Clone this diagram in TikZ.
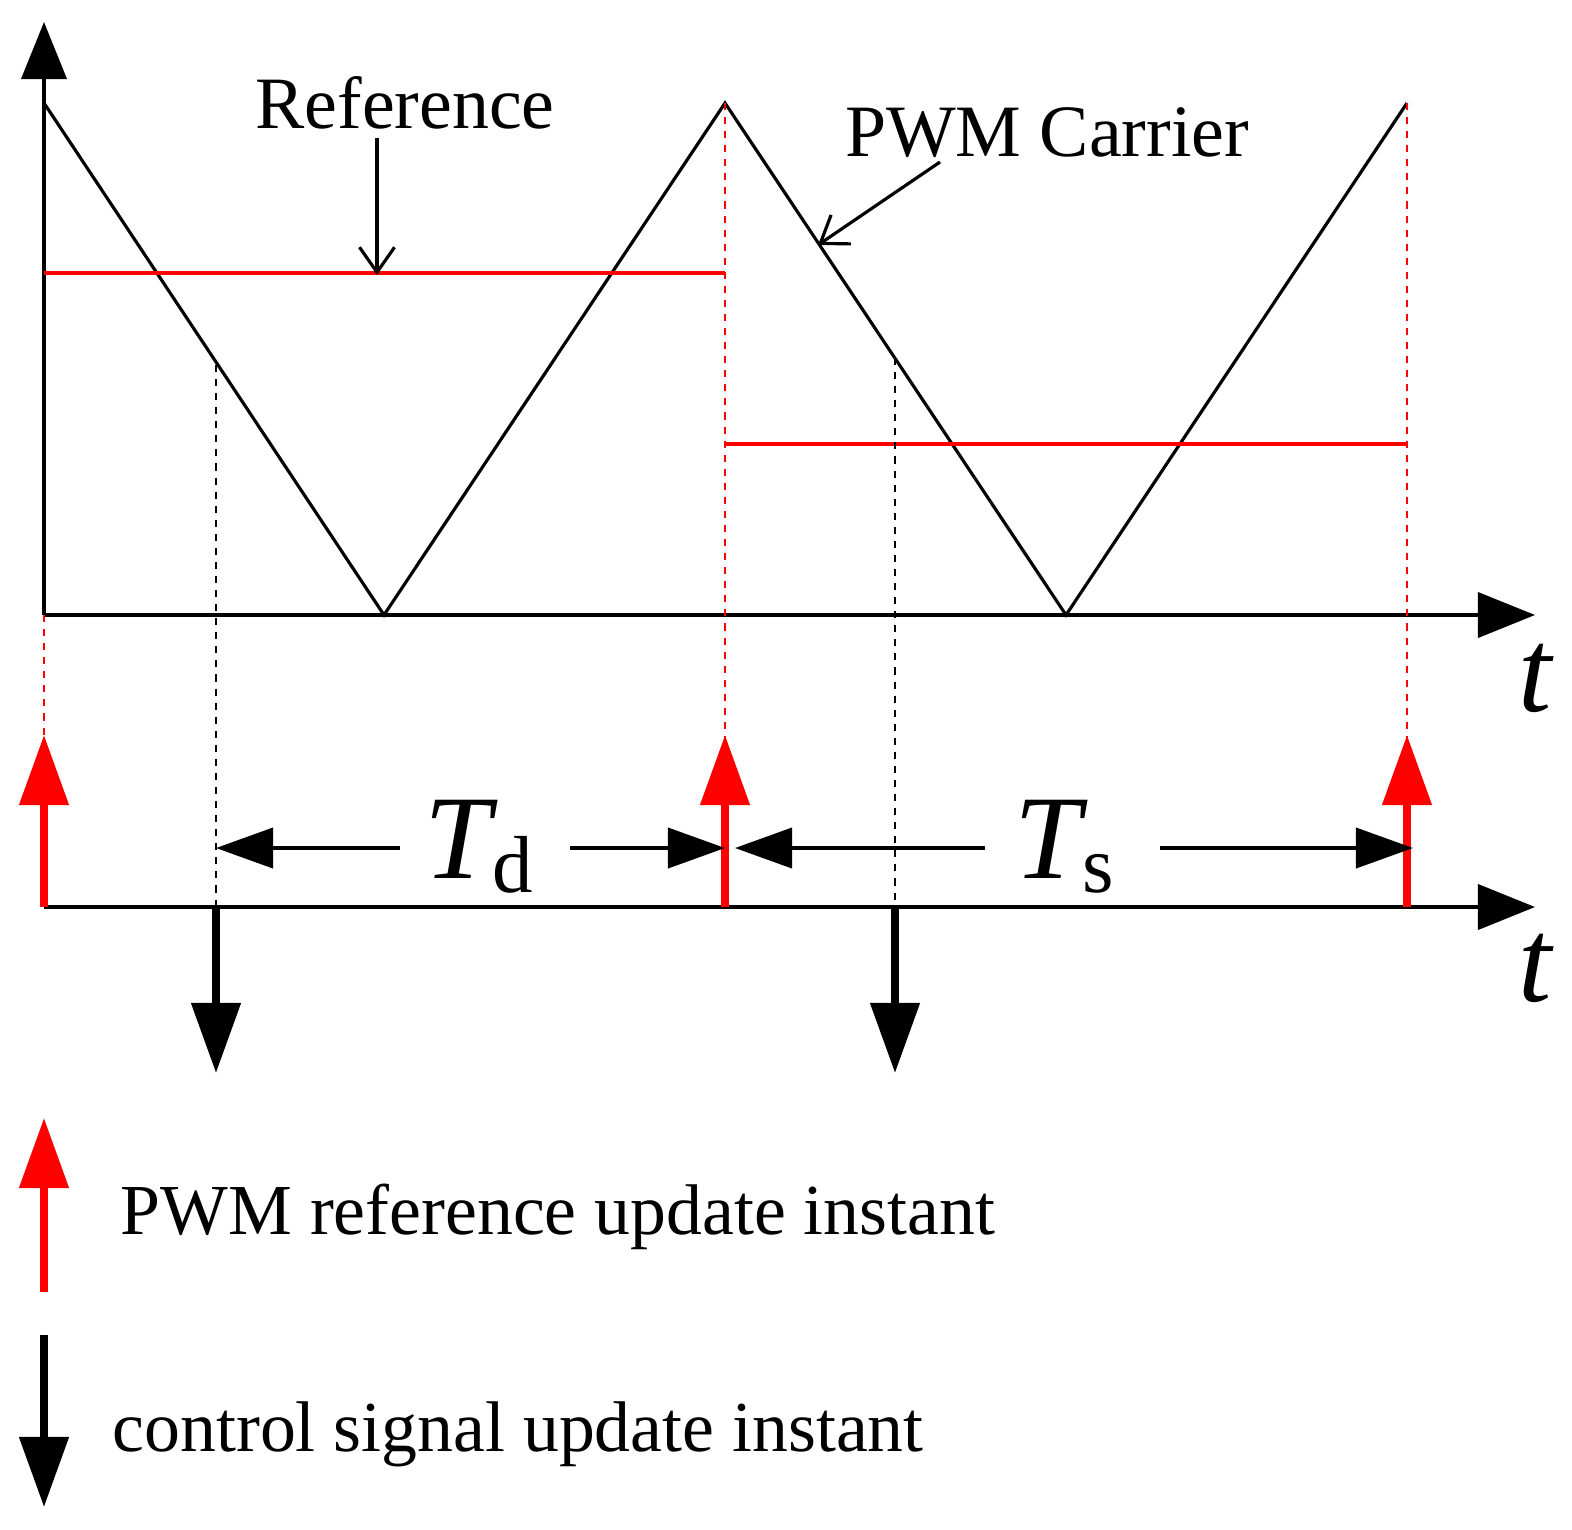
\documentclass[tikz,border=0pt]{standalone}
\usepackage{fontspec}
\setmainfont{Liberation Serif}
\usetikzlibrary{arrows.meta}
\begin{document}
\begin{tikzpicture}[x=0.01cm,y=-0.01cm,
  ax/.style={line width=1.1pt,-{Triangle[length=0.57cm,width=0.45cm]}},
  carrier/.style={line width=0.9pt},
  refl/.style={red,line width=1pt},
  rdot/.style={red,dash pattern=on 2pt off 2pt,line width=0.8pt},
  bdot/.style={black,dash pattern=on 2pt off 2pt,line width=0.8pt},
  rarr/.style={red,line width=2.2pt,-{Triangle[length=0.7cm,width=0.48cm]}},
  barr/.style={black,line width=2.2pt,-{Triangle[length=0.7cm,width=0.48cm]}},
  dim/.style={line width=1.1pt,-{Triangle[length=0.57cm,width=0.4cm]}},
  thin/.style={line width=0.9pt,-{Straight Barb[length=0.25cm,width=0.35cm]}},
  lbl/.style={font=\fontsize{21}{24}\selectfont,inner sep=0},
  leg/.style={font=\fontsize{20.4}{24}\selectfont,inner sep=0},
  sub/.style={font=\fontsize{23}{26}\selectfont,inner sep=0},
  tl/.style={font=\itshape\fontsize{34}{38}\selectfont,inner sep=0}]
\useasboundingbox (0,0) rectangle (1572,1529);
% axes
\coordinate (O) at (44,615); \coordinate (Ytop) at (44,22);
\coordinate (X1) at (1535,615); \coordinate (B0) at (44,907); \coordinate (X2) at (1535,907);
\draw[ax] (O) -- (Ytop);
\draw[ax] (O) -- (X1);
\draw[ax] (B0) -- (X2);
% carrier
\coordinate (c0) at (44,103); \coordinate (c1) at (384,615); \coordinate (c2) at (725,103);
\coordinate (c3) at (1066,615); \coordinate (c4) at (1407,103);
\draw[carrier] (c0) -- (c1) -- (c2) -- (c3) -- (c4);
% reference
\coordinate (r1a) at (44,273); \coordinate (r1b) at (725,273);
\coordinate (r2a) at (725,444); \coordinate (r2b) at (1407,444);
\draw[refl] (r1a) -- (r1b);
\draw[refl] (r2a) -- (r2b);
% red dotted
\draw[rdot] (44,615) -- (44,735);
\draw[rdot] (c2) -- (725,740);
\draw[rdot] (c4) -- (1407,740);
% black dotted
\draw[bdot] (216,365) -- (216,907);
\draw[bdot] (895,358) -- (895,907);
% red arrows
\draw[rarr] (44,907) -- (44,735);
\draw[rarr] (725,907) -- (725,735);
\draw[rarr] (1407,907) -- (1407,735);
% black arrows
\draw[barr] (216,907) -- (216,1073);
\draw[barr] (895,907) -- (895,1073);
% dimensions
\node[tl,anchor=base east] (Td) at (492,878) {T};
\node[sub,anchor=base west] (tdsub) at ([yshift=-0.14cm]Td.base east) {d};
\node[tl,anchor=base east] (Ts) at (1082,878) {T};
\node[sub,anchor=base west] (tssub) at ([yshift=-0.14cm]Ts.base east) {s};
\draw[dim] (400,848) -- (216,848);
\draw[dim] (570,848) -- (725,848);
\draw[dim] (985,848) -- (735,848);
\draw[dim] (1160,848) -- (1413,848);
% t labels
\node[tl] (t1) at (1535,678) {t};
\node[tl] (t2) at (1535,968) {t};
% labels
\node[lbl] (ref) at (405,103) {Reference};
\draw[thin] (377,138) -- (377,275);
\node[lbl] (pwm) at (1047,133) {PWM Carrier};
\draw[thin] (940,162) -- (818,245);
% legend
\draw[rarr] (44,1292) -- (44,1118);
\node[leg,anchor=west] (l1) at (120,1217) {PWM reference update instant};
\draw[barr] (44,1335) -- (44,1507);
\node[leg,anchor=west] (l2) at (112,1434) {control signal update instant};
\end{tikzpicture}
\end{document}
